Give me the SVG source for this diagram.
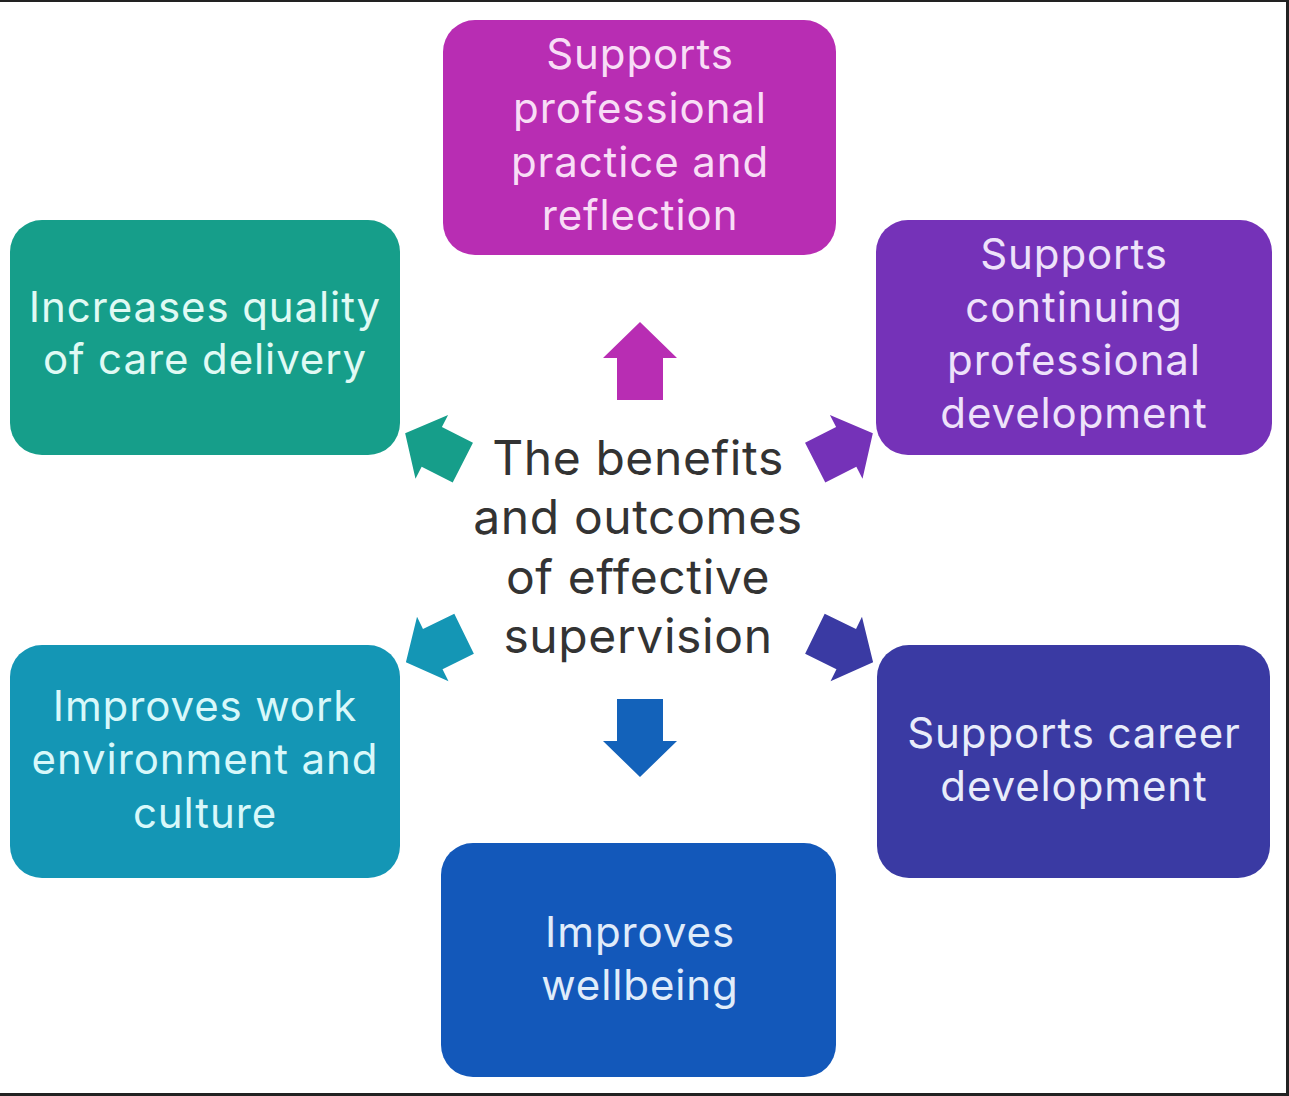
<svg xmlns="http://www.w3.org/2000/svg" width="1289" height="1096" viewBox="0 0 1289 1096">
  <style>
    .box text { font-family: Inter, "Open Sans", "Liberation Sans", sans-serif; font-size: 42px; letter-spacing: 0.9px; text-anchor: middle; }
    .center text { font-family: Inter, "Open Sans", "Liberation Sans", sans-serif; font-size: 48px; letter-spacing: 0.6px; fill: #333333; text-anchor: middle; }
  </style>
  <defs>
    <path id="arr" d="M0,-39 L37,-3 L23,-3 L23,39 L-23,39 L-23,-3 L-37,-3 Z"/>
  </defs>
  <rect x="0" y="0" width="1289" height="1096" fill="#ffffff"/>
  <g id="frame" fill="#222222">
    <rect x="0" y="0" width="1289" height="2"/>
    <rect x="1286" y="0" width="3" height="1096"/>
    <rect x="0" y="1093" width="1289" height="3"/>
  </g>

  <g id="node-practice" class="box">
    <rect x="443" y="20" width="393" height="235" rx="32" fill="#B82DB3"/>
    <text fill="#F8DDF6"><tspan x="640" y="69">Supports</tspan><tspan x="640" y="123">professional</tspan><tspan x="640" y="177">practice and</tspan><tspan x="640" y="230">reflection</tspan></text>
  </g>
  <g id="node-quality" class="box">
    <rect x="10" y="220" width="390" height="235" rx="32" fill="#169E8A"/>
    <text fill="#E0FAF4"><tspan x="205" y="322">Increases quality</tspan><tspan x="205" y="374">of care delivery</tspan></text>
  </g>
  <g id="node-cpd" class="box">
    <rect x="876" y="220" width="396" height="235" rx="32" fill="#7532B8"/>
    <text fill="#EEE2FA"><tspan x="1074" y="269">Supports</tspan><tspan x="1074" y="322">continuing</tspan><tspan x="1074" y="375">professional</tspan><tspan x="1074" y="428">development</tspan></text>
  </g>
  <g id="node-environment" class="box">
    <rect x="10" y="645" width="390" height="233" rx="32" fill="#1496B5"/>
    <text fill="#D8F8FA"><tspan x="205" y="721">Improves work</tspan><tspan x="205" y="774">environment and</tspan><tspan x="205" y="828">culture</tspan></text>
  </g>
  <g id="node-career" class="box">
    <rect x="877" y="645" width="393" height="233" rx="32" fill="#3A3AA3"/>
    <text fill="#E8ECFA"><tspan x="1074" y="748">Supports career</tspan><tspan x="1074" y="801">development</tspan></text>
  </g>
  <g id="node-wellbeing" class="box">
    <rect x="441" y="843" width="395" height="234" rx="32" fill="#1358BA"/>
    <text fill="#E0ECFA"><tspan x="640" y="947">Improves</tspan><tspan x="640" y="1000">wellbeing</tspan></text>
  </g>

  <g id="node-center" class="center">
    <text><tspan x="638" y="475">The benefits</tspan><tspan x="638" y="534">and outcomes</tspan><tspan x="638" y="594">of effective</tspan><tspan x="638" y="653">supervision</tspan></text>
  </g>

  <g id="connectors">
    <use href="#arr" fill="#B82DB3" transform="translate(640,361)"/>
    <use href="#arr" fill="#1362BA" transform="translate(640,738) rotate(180)"/>
    <use href="#arr" fill="#169E8A" transform="translate(434,448) rotate(-63) scale(0.97,0.83)"/>
    <use href="#arr" fill="#7532B8" transform="translate(844,448) rotate(63) scale(0.97,0.83)"/>
    <use href="#arr" fill="#1496B5" transform="translate(435,648) rotate(-116) scale(0.97,0.83)"/>
    <use href="#arr" fill="#3A3AA3" transform="translate(844,648) rotate(116) scale(0.97,0.83)"/>
  </g>
</svg>
